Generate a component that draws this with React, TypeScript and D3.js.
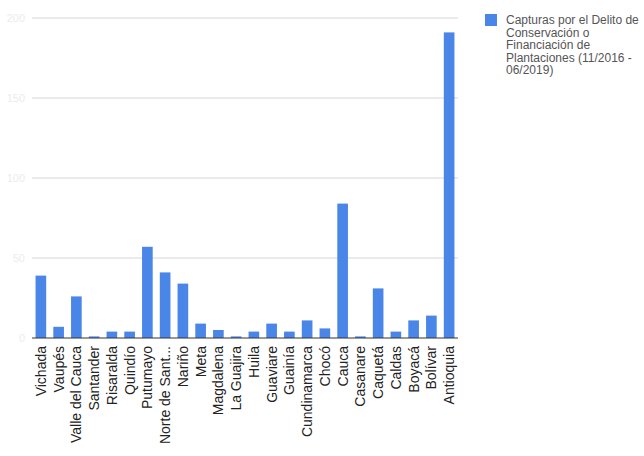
import React from "react";
import * as d3 from "d3";

const departamentos = [
  "Vichada", "Vaupés", "Valle del Cauca", "Santander", "Risaralda", "Quindío",
  "Putumayo", "Norte de Sant...", "Nariño", "Meta", "Magdalena", "La Guajira",
  "Huila", "Guaviare", "Guainía", "Cundinamarca", "Chocó", "Cauca", "Casanare",
  "Caquetá", "Caldas", "Boyacá", "Bolívar", "Antioquia",
];
const capturas = [
  39, 7, 26, 1, 4, 4, 57, 41, 34, 9, 5, 1, 4, 9, 4, 11, 6, 84, 1, 31, 4, 11, 14, 191,
];
const yTicks = [0, 50, 100, 150, 200];
const legendLines = [
  "Capturas por el Delito de",
  "Conservación o",
  "Financiación de",
  "Plantaciones (11/2016 -",
  "06/2019)",
];

const W = 644;
const H = 456;
const plot = { left: 32, right: 458, top: 18, bottom: 338 };
const barColor = "#4a86e8";
const font = "'Liberation Sans', Arial, sans-serif";

export default function App() {
  const x = d3
    .scaleBand<string>()
    .domain(departamentos)
    .range([plot.left, plot.right])
    .paddingInner(0.4)
    .paddingOuter(0.2);
  const y = d3.scaleLinear().domain([0, 200]).range([plot.bottom, plot.top]);

  return (
    <svg
      width={W}
      height={H}
      style={{ position: "absolute", left: 0, top: 0, background: "#fff" }}
      fontFamily={font}
    >
      {/* gridlines and faint value labels */}
      {yTicks.map((t) => (
        <g key={t}>
          {t > 0 && (
            <line
              x1={plot.left}
              x2={plot.right}
              y1={y(t)}
              y2={y(t)}
              stroke="#d6d6d6"
              strokeWidth={1}
            />
          )}
          <text
            x={25}
            y={y(t)}
            dy="0.35em"
            textAnchor="end"
            fontSize={11}
            fill="#ececec"
          >
            {t}
          </text>
        </g>
      ))}

      {/* bars */}
      {departamentos.map((d, i) => (
        <rect
          key={d}
          x={x(d)}
          y={y(capturas[i])}
          width={x.bandwidth()}
          height={plot.bottom - y(capturas[i])}
          fill={barColor}
        />
      ))}

      {/* baseline */}
      <line
        x1={plot.left}
        x2={plot.right}
        y1={plot.bottom}
        y2={plot.bottom}
        stroke="#333"
        strokeWidth={1}
      />

      {/* category labels, rotated */}
      {departamentos.map((d) => {
        const cx = (x(d) as number) + x.bandwidth() / 2;
        const ty = plot.bottom + 8;
        return (
          <text
            key={d}
            transform={`translate(${cx},${ty}) rotate(-90)`}
            textAnchor="end"
            dy="0.35em"
            fontSize={14}
            fill="#222"
          >
            {d}
          </text>
        );
      })}

      {/* legend */}
      <rect x={485} y={14} width={12} height={12} fill={barColor} />
      {legendLines.map((line, i) => (
        <text
          key={i}
          x={506}
          y={20 + i * 12.5}
          dy="0.35em"
          fontSize={12}
          fill="#555"
        >
          {line}
        </text>
      ))}
    </svg>
  );
}
